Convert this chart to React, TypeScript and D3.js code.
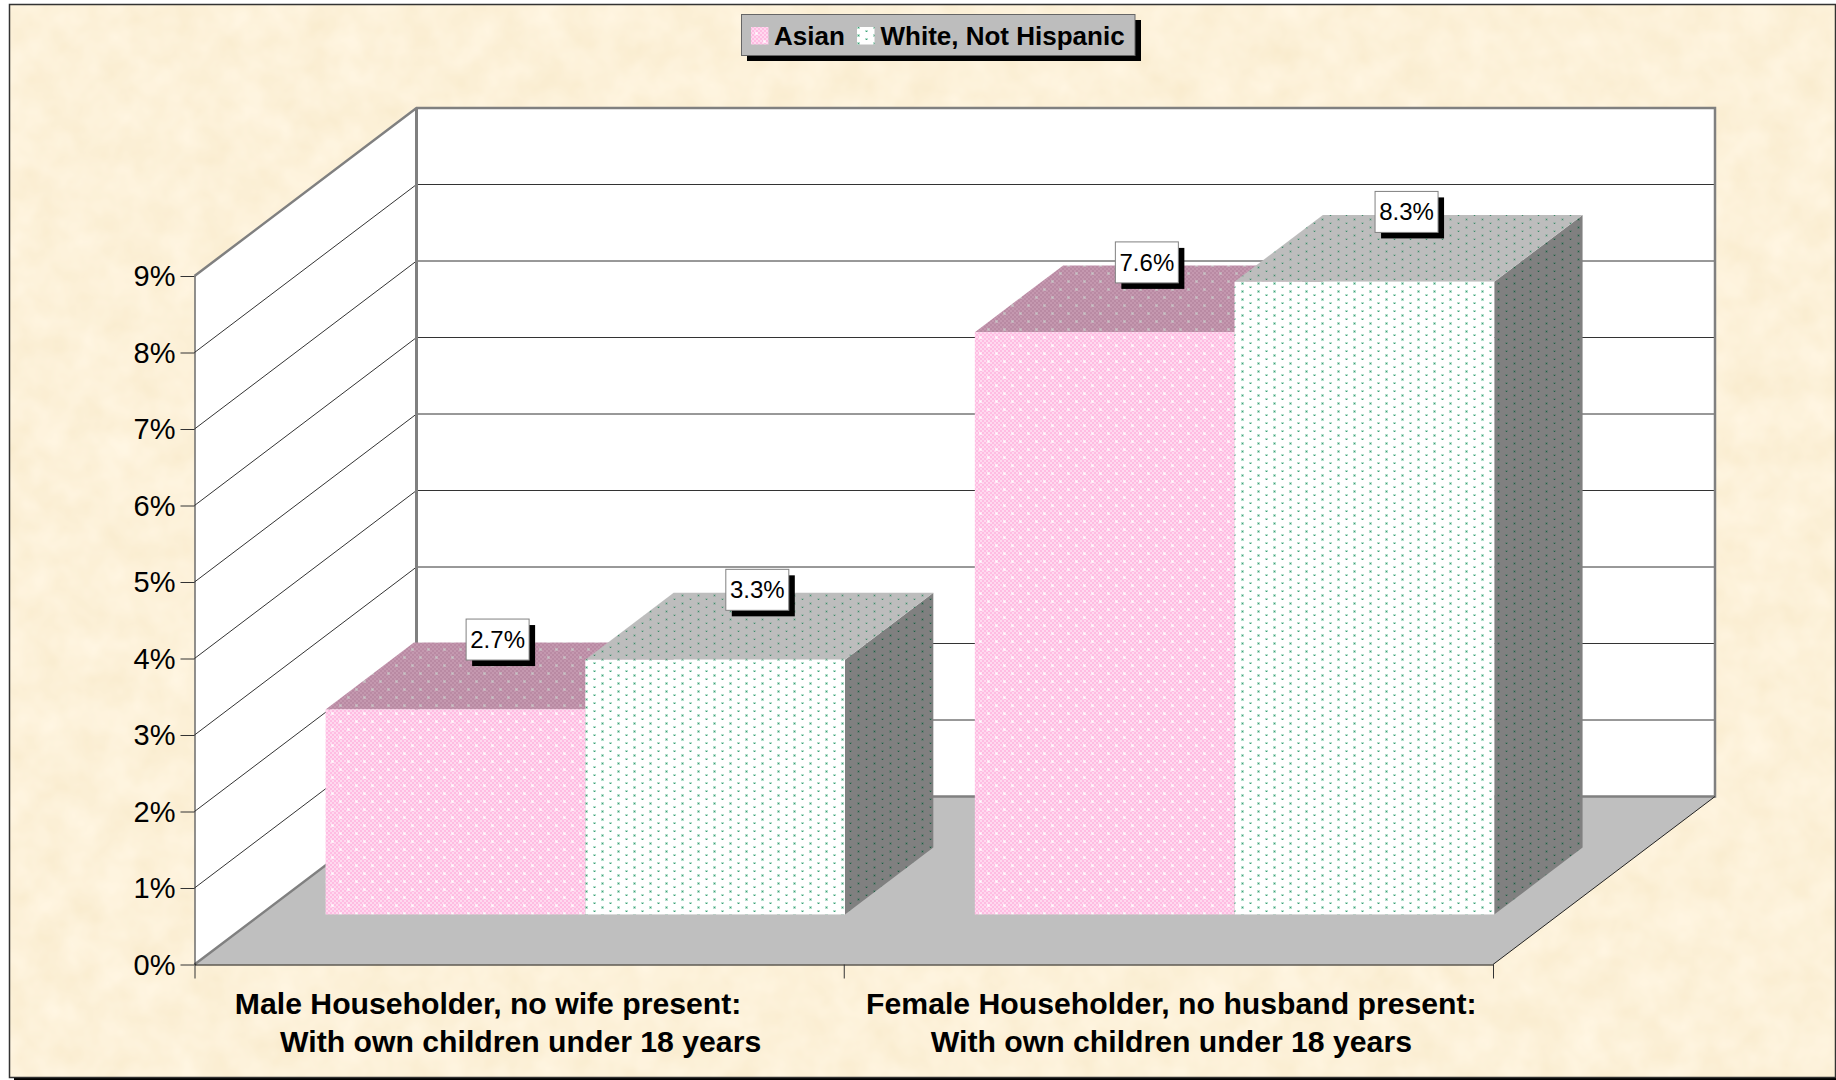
import { useEffect, useRef } from "react";
import * as d3 from "d3";

const categories = ["Male Householder", "Female Householder"];
const categoryLabels = [
	["Male Householder, no wife present:", "With own children under 18 years"],
	["Female Householder, no husband present:", "With own children under 18 years"],
];
const seriesNames = ["Asian", "White, Not Hispanic"];
// bar heights, the labels round them to one decimal
const asianValues = [2.68, 7.61];
const whiteValues = [3.33, 8.27];
const yTicks = [0, 1, 2, 3, 4, 5, 6, 7, 8, 9];

const FONT = "'Liberation Sans', Arial, sans-serif";

const App = () => {
	const svgRef = useRef<SVGSVGElement>(null);

	useEffect(() => {
		if (!svgRef.current) return;

		const svg = d3.select(svgRef.current);
		svg.selectAll("*").remove();

		const defs = svg.append("defs");

		// dotted fill, tile is a checker with dots on top
		const addPattern = (
			id: string,
			size: [number, number],
			base: string,
			alt: string | null,
			dots: [number, number][],
			halo: string,
			core: string
		) => {
			const p = defs
				.append("pattern")
				.attr("id", id)
				.attr("patternUnits", "userSpaceOnUse")
				.attr("width", size[0])
				.attr("height", size[1]);
			p.append("rect").attr("width", size[0]).attr("height", size[1]).attr("fill", base);
			if (alt) {
				for (let x = 0; x < size[0]; x += 2) {
					for (let y = 0; y < size[1]; y += 2) {
						if ((x + y) % 4 === 0) {
							p.append("rect").attr("x", x).attr("y", y).attr("width", 2).attr("height", 2).attr("fill", alt);
						}
					}
				}
			}
			dots.forEach(([x, y]) => {
				p.append("rect").attr("x", x - 1).attr("y", y - 1).attr("width", 3).attr("height", 3).attr("fill", halo);
				p.append("rect").attr("x", x).attr("y", y).attr("width", 1).attr("height", 1).attr("fill", core);
			});
		};

		const pinkDots: [number, number][] = [[4, 1], [12, 9]];
		const greenDots: [number, number][] = [[10, 3], [2, 7]];
		addPattern("pinkFront", [16, 16], "#ffbce2", "#ffd9ef", pinkDots, "#ffeaf6", "#ffffff");
		addPattern("pinkTop", [16, 16], "#b98aa3", "#c498af", pinkDots, "#c4b0ba", "#c8c8c8");
		addPattern("pinkSide", [16, 16], "#80606f", "#8a6a7a", pinkDots, "#8a7f85", "#909090");
		addPattern("whiteFront", [16, 8], "#ffffff", null, greenDots, "#b5e0cd", "#3f9c78");
		addPattern("whiteTop", [16, 8], "#bdbdbd", null, greenDots, "#a3b5ad", "#3f8a6a");
		addPattern("whiteSide", [16, 8], "#808080", null, greenDots, "#6a7c74", "#1f5c44");

		// mottled paper background
		const paper = defs
			.append("filter")
			.attr("id", "paper")
			.attr("x", 0)
			.attr("y", 0)
			.attr("width", "100%")
			.attr("height", "100%")
			.attr("color-interpolation-filters", "sRGB");
		paper
			.append("feTurbulence")
			.attr("type", "fractalNoise")
			.attr("baseFrequency", 0.03)
			.attr("numOctaves", 3)
			.attr("seed", 7);
		paper
			.append("feColorMatrix")
			.attr("type", "matrix")
			.attr("values", "0.03 0 0 0 0.975  0.05 0 0 0 0.92  0.1 0 0 0 0.8  0 0 0 0 1");

		// Frame
		svg.append("rect").attr("x", 14).attr("y", 9).attr("width", 1830).attr("height", 1071).attr("fill", "#000");
		svg
			.append("rect")
			.attr("x", 9.5)
			.attr("y", 4.5)
			.attr("width", 1826)
			.attr("height", 1073)
			.attr("fill", "#fdf1d8")
			.attr("filter", "url(#paper)");
		svg
			.append("rect")
			.attr("x", 9.5)
			.attr("y", 4.5)
			.attr("width", 1826)
			.attr("height", 1073)
			.attr("fill", "none")
			.attr("stroke", "#333")
			.attr("stroke-width", 1.5);

		// Scales
		const xL = 194.5;
		const xR = 1493;
		const y = d3.scaleLinear().domain([0, 9]).range([964.5, 276]);
		const xCat = d3.scaleBand<string>().domain(categories).range([xL, xR]);
		const xSeries = d3.scaleBand<string>().domain(seriesNames).range([0, xCat.bandwidth()]).paddingOuter(0.25);
		const depthX = d3.scaleLinear().domain([0, 1]).range([0, 222]);
		const depthY = d3.scaleLinear().domain([0, 1]).range([0, -168]);
		const barNear = 0.298;
		const barFar = 0.696;

		const poly = (pts: [number, number][]) => d3.line()(pts) + "Z";
		const floorY = y(0);
		const dx = depthX(1);
		const dy = depthY(1);

		// Walls and floor
		const walls = svg.append("g");
		walls
			.append("path")
			.attr("d", poly([[xL, y(9)], [xL + dx, y(9) + dy], [xL + dx, floorY + dy], [xL, floorY]]))
			.attr("fill", "#fff");
		walls
			.append("path")
			.attr("d", poly([[xL + dx, y(9) + dy], [xR + dx, y(9) + dy], [xR + dx, floorY + dy], [xL + dx, floorY + dy]]))
			.attr("fill", "#fff");
		walls
			.append("path")
			.attr("d", poly([[xL, floorY], [xL + dx, floorY + dy], [xR + dx, floorY + dy], [xR, floorY]]))
			.attr("fill", "#bfbfbf");

		// Gridlines on both walls
		yTicks.slice(1, -1).forEach((t) => {
			walls
				.append("path")
				.attr("d", d3.line()([[xL, y(t)], [xL + dx, y(t) + dy], [xR + dx, y(t) + dy]]))
				.attr("fill", "none")
				.attr("stroke", "#333")
				.attr("stroke-width", 1);
		});

		// Grey wall edges
		walls
			.append("path")
			.attr(
				"d",
				d3.line()([
					[xL, y(9)],
					[xL + dx, y(9) + dy],
					[xR + dx, y(9) + dy],
					[xR + dx, floorY + dy],
					[xL + dx, floorY + dy],
					[xL, floorY],
				])
			)
			.attr("fill", "none")
			.attr("stroke", "#808080")
			.attr("stroke-width", 2.5);
		walls
			.append("line")
			.attr("x1", xL + dx)
			.attr("x2", xL + dx)
			.attr("y1", y(9) + dy)
			.attr("y2", floorY + dy)
			.attr("stroke", "#808080")
			.attr("stroke-width", 3);
		walls
			.append("line")
			.attr("x1", xR)
			.attr("x2", xR + dx)
			.attr("y1", floorY)
			.attr("y2", floorY + dy)
			.attr("stroke", "#222")
			.attr("stroke-width", 1);

		// Bars
		const seriesValues = [asianValues, whiteValues];
		const fills = [
			["pinkFront", "pinkTop", "pinkSide"],
			["whiteFront", "whiteTop", "whiteSide"],
		];
		const bars = svg.append("g");
		const labelData: { x: number; y: number; text: string }[] = [];

		categories.forEach((cat, c) => {
			seriesNames.forEach((name, s) => {
				const barLeft = (xCat(cat) as number) + (xSeries(name) as number) + depthX(barNear);
				const w = xSeries.bandwidth();
				const barRight = barLeft + w;
				const bottom = floorY + depthY(barNear);
				const top = y(seriesValues[s][c]) + depthY(barNear);
				const ox = depthX(barFar) - depthX(barNear);
				const oy = depthY(barFar) - depthY(barNear);

				bars
					.append("path")
					.attr("d", poly([[barRight, top], [barRight + ox, top + oy], [barRight + ox, bottom + oy], [barRight, bottom]]))
					.attr("fill", `url(#${fills[s][2]})`);
				bars
					.append("path")
					.attr("d", poly([[barLeft, top], [barLeft + ox, top + oy], [barRight + ox, top + oy], [barRight, top]]))
					.attr("fill", `url(#${fills[s][1]})`);
				bars
					.append("rect")
					.attr("x", barLeft)
					.attr("y", top)
					.attr("width", w)
					.attr("height", bottom - top)
					.attr("fill", `url(#${fills[s][0]})`);

				labelData.push({
					x: (barLeft + barRight + ox) / 2 - 2,
					y: top + oy - 3,
					text: `${seriesValues[s][c].toFixed(1)}%`,
				});
			});
		});

		// Axes
		const yAxis = svg
			.append("g")
			.attr("transform", `translate(${xL},0)`)
			.call(
				d3
					.axisLeft(y)
					.tickValues(yTicks)
					.tickFormat((d) => `${d}%`)
					.tickSize(14)
					.tickSizeOuter(0)
					.tickPadding(5)
			);
		yAxis.select(".domain").attr("stroke", "#222");
		yAxis.selectAll(".tick line").attr("stroke", "#333");
		yAxis
			.selectAll(".tick text")
			.attr("font-family", FONT)
			.attr("font-size", 29)
			.attr("fill", "#000")
			.attr("dy", "0.34em");

		const xTickScale = d3.scaleLinear().domain([0, categories.length]).range([xL, xR]);
		const xAxis = svg
			.append("g")
			.attr("transform", `translate(0,${floorY})`)
			.call(d3.axisBottom(xTickScale).ticks(categories.length).tickFormat(() => "").tickSize(14).tickSizeOuter(0));
		xAxis.select(".domain").attr("stroke", "#111");
		xAxis.selectAll(".tick line").attr("stroke", "#333");

		// Category labels
		const labelOffsets = [
			[-31, 1.5],
			[3, 3],
		];
		categoryLabels.forEach((lines, c) => {
			const cx = xTickScale(c + 0.5);
			lines.forEach((line, l) => {
				svg
					.append("text")
					.attr("x", cx + labelOffsets[c][l])
					.attr("y", 1014 + l * 37.5)
					.attr("text-anchor", "middle")
					.attr("font-family", FONT)
					.attr("font-weight", "bold")
					.attr("font-size", 30.2)
					.attr("fill", "#000")
					.text(line);
			});
		});

		// Data labels
		labelData.forEach((d) => {
			const g = svg.append("g").attr("transform", `translate(${d.x},${d.y})`);
			g.append("rect").attr("x", -31.5 + 6).attr("y", -20.5 + 6).attr("width", 63).attr("height", 41).attr("fill", "#000");
			g.append("rect")
				.attr("x", -31.5)
				.attr("y", -20.5)
				.attr("width", 63)
				.attr("height", 41)
				.attr("fill", "#fff")
				.attr("stroke", "#808080")
				.attr("stroke-width", 1);
			g.append("text")
				.attr("y", 8.5)
				.attr("text-anchor", "middle")
				.attr("font-family", FONT)
				.attr("font-size", 24)
				.attr("fill", "#000")
				.text(d.text);
		});

		// Legend
		const legend = svg.append("g");
		legend.append("rect").attr("x", 747).attr("y", 20).attr("width", 394).attr("height", 41).attr("fill", "#000");
		legend
			.append("rect")
			.attr("x", 741.5)
			.attr("y", 14.5)
			.attr("width", 393.5)
			.attr("height", 41)
			.attr("fill", "#bdbdbd")
			.attr("stroke", "#666")
			.attr("stroke-width", 1);
		const legendSwatchX = [751, 857];
		const legendTextX = [774, 880.5];
		seriesNames.forEach((name, s) => {
			legend
				.append("rect")
				.attr("x", legendSwatchX[s])
				.attr("y", 27)
				.attr("width", 17.5)
				.attr("height", 17.5)
				.attr("fill", `url(#${fills[s][0]})`);
			legend
				.append("text")
				.attr("x", legendTextX[s])
				.attr("y", 45)
				.attr("font-family", FONT)
				.attr("font-weight", "bold")
				.attr("font-size", 26)
				.attr("fill", "#000")
				.text(name);
		});
	}, []);

	return (
		<svg
			ref={svgRef}
			width={1836}
			height={1080}
			style={{ position: "absolute", left: 0, top: 0 }}
		></svg>
	);
};

export default App;
